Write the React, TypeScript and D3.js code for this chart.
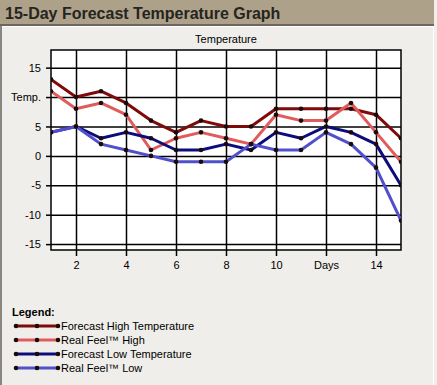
import React, { useEffect, useRef } from "react";
import * as d3 from "d3";

const days = [1, 2, 3, 4, 5, 6, 7, 8, 9, 10, 11, 12, 13, 14, 15];
const forecastHigh = [13, 10, 11, 9, 6, 4, 6, 5, 5, 8, 8, 8, 8, 7, 3];
const realFeelHigh = [11, 8, 9, 7, 1, 3, 4, 3, 2, 7, 6, 6, 9, 4, -1];
const forecastLow = [4, 5, 3, 4, 3, 1, 1, 2, 1, 4, 3, 5, 4, 2, -5];
const realFeelLow = [4, 5, 2, 1, 0, -1, -1, -1, 2, 1, 1, 4, 2, -2, -11];
const yTicks = [-15, -10, -5, 0, 5, 10, 15];
const xTicks = [2, 4, 6, 8, 10, 12, 14];
const seriesNames = [
  "Forecast High Temperature",
  "Real Feel\u2122 High",
  "Forecast Low Temperature",
  "Real Feel\u2122 Low",
];
const seriesColors = ["#7f0a0a", "#e05c5c", "#0c0c7a", "#5050cc"];

export default function App() {
  const ref = useRef<SVGSVGElement>(null);

  useEffect(() => {
    const width = 437;
    const height = 385;
    const margin = { top: 50, right: 36, bottom: 135, left: 51 };
    const font = "'Liberation Sans', Arial, sans-serif";
    const svg = d3.select(ref.current).attr("width", width).attr("height", height);
    svg.selectAll("*").remove();

    // panel + header
    svg.append("rect").attr("width", width).attr("height", height).attr("fill", "#efeeea");
    svg.append("rect").attr("x", 0).attr("y", 26).attr("width", 434).attr("height", 1).attr("fill", "#ffffff");
    svg.append("rect").attr("x", 433).attr("y", 26).attr("width", 1).attr("height", height).attr("fill", "#ffffff");
    svg.append("rect").attr("x", 0).attr("y", 26).attr("width", 2).attr("height", height).attr("fill", "#8a8782");
    svg.append("rect").attr("width", 434).attr("height", 24).attr("fill", "#ada18a");
    svg.append("rect").attr("y", 24).attr("width", 434).attr("height", 2).attr("fill", "#6c665e");
    svg
      .append("text")
      .attr("x", 5)
      .attr("y", 19)
      .attr("font-family", font)
      .attr("font-size", "16px")
      .attr("font-weight", "700")
      .attr("fill", "#262420")
      .text("15-Day Forecast Temperature Graph");

    const x = d3.scaleLinear().domain([1, 15]).range([margin.left, width - margin.right]);
    const y = d3.scaleLinear().domain([-16, 18]).range([height - margin.bottom, margin.top]);
    const [x0, x1] = x.range();
    const [y0, y1] = [y.range()[1], y.range()[0]];

    svg.append("rect").attr("x", x0).attr("y", y0).attr("width", x1 - x0).attr("height", y1 - y0).attr("fill", "#ffffff");

    // grid
    svg
      .append("g")
      .attr("transform", `translate(0,${y1})`)
      .call(d3.axisBottom(x).tickValues(xTicks).tickSize(-(y1 - y0)).tickFormat(() => ""))
      .call((g) => g.select(".domain").remove())
      .selectAll("line")
      .attr("stroke", "#000")
      .attr("stroke-width", 1.5);
    svg
      .append("g")
      .attr("transform", `translate(${x0},0)`)
      .call(d3.axisLeft(y).tickValues(yTicks).tickSize(-(x1 - x0)).tickFormat(() => ""))
      .call((g) => g.select(".domain").remove())
      .selectAll("line")
      .attr("stroke", "#000")
      .attr("stroke-width", 1.5);

    // axes
    const xAxis = svg
      .append("g")
      .attr("transform", `translate(0,${y1})`)
      .call(
        d3
          .axisBottom(x)
          .tickValues(xTicks)
          .tickSize(6)
          .tickPadding(5)
          .tickFormat((d) => (d === 12 ? "Days" : String(d)))
      );
    const yAxis = svg
      .append("g")
      .attr("transform", `translate(${x0},0)`)
      .call(
        d3
          .axisLeft(y)
          .tickValues(yTicks)
          .tickSize(5)
          .tickPadding(5)
          .tickFormat((d) => (d === 10 ? "Temp." : String(d)))
      );
    [xAxis, yAxis].forEach((a) => {
      a.select(".domain").remove();
      a.selectAll("line").attr("stroke", "#000").attr("stroke-width", 1.5);
      a.selectAll("text")
        .attr("fill", "#000")
        .attr("font-family", font)
        .attr("font-size", "11px");
    });

    svg
      .append("rect")
      .attr("x", x0)
      .attr("y", y0)
      .attr("width", x1 - x0)
      .attr("height", y1 - y0)
      .attr("fill", "none")
      .attr("stroke", "#000")
      .attr("stroke-width", 1.5);

    svg
      .append("text")
      .attr("x", (x0 + x1) / 2)
      .attr("y", 43)
      .attr("text-anchor", "middle")
      .attr("font-family", font)
      .attr("font-size", "11px")
      .attr("fill", "#000")
      .text("Temperature");

    // series
    svg
      .append("clipPath")
      .attr("id", "plot-clip")
      .append("rect")
      .attr("x", x0)
      .attr("y", y0)
      .attr("width", x1 - x0)
      .attr("height", y1 - y0);
    const plot = svg.append("g").attr("clip-path", "url(#plot-clip)");
    const line = d3
      .line<number>()
      .x((_, i) => x(days[i]))
      .y((d) => y(d));
    const allSeries = [forecastHigh, realFeelHigh, forecastLow, realFeelLow];
    allSeries.forEach((s, k) => {
      plot
        .append("path")
        .attr("d", line(s))
        .attr("fill", "none")
        .attr("stroke", seriesColors[k])
        .attr("stroke-width", 3)
        .attr("stroke-linejoin", "round");
      plot
        .selectAll(null)
        .data(s)
        .join("circle")
        .attr("cx", (_, i) => x(days[i]))
        .attr("cy", (d) => y(d))
        .attr("r", 2.3)
        .attr("fill", "#1a0a0a");
    });

    // legend
    svg
      .append("text")
      .attr("x", 12)
      .attr("y", 316)
      .attr("font-family", font)
      .attr("font-size", "11px")
      .attr("font-weight", "700")
      .attr("fill", "#000")
      .text("Legend:");
    seriesNames.forEach((name, k) => {
      const cy = 326 + k * 14;
      const g = svg.append("g");
      g.append("line")
        .attr("x1", 16)
        .attr("x2", 58)
        .attr("y1", cy)
        .attr("y2", cy)
        .attr("stroke", seriesColors[k])
        .attr("stroke-width", 3);
      [16, 37, 58].forEach((cx) =>
        g.append("circle").attr("cx", cx).attr("cy", cy).attr("r", 2.3).attr("fill", "#1a0a0a")
      );
      g.append("text")
        .attr("x", 61)
        .attr("y", cy + 4)
        .attr("font-family", font)
        .attr("font-size", "11px")
        .attr("fill", "#000")
        .text(name);
    });
  }, []);

  return <svg ref={ref} style={{ position: "absolute", left: 0, top: 0 }} />;
}
